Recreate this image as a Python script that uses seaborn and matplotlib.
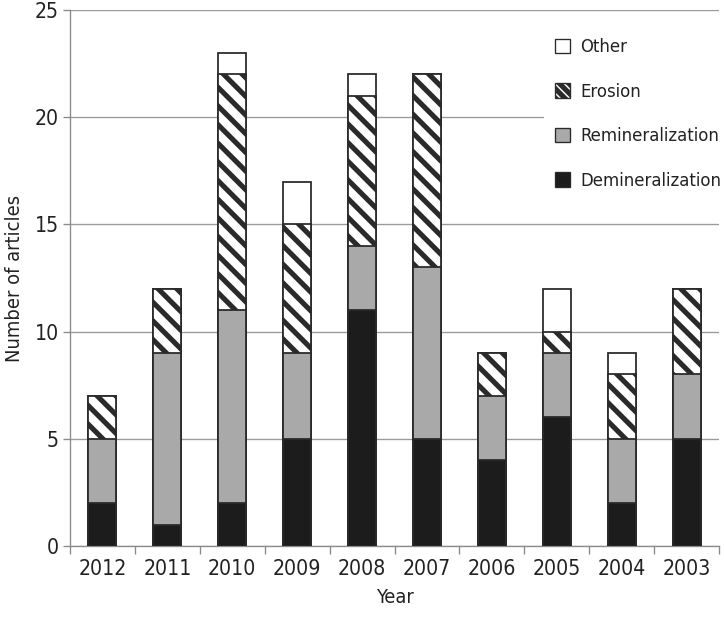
import matplotlib
matplotlib.use("Agg")
import matplotlib.pyplot as plt
from matplotlib.patches import Patch
import seaborn as sns
import pandas as pd
import numpy as np

years = ["2012", "2011", "2010", "2009", "2008", "2007", "2006", "2005", "2004", "2003"]
demineralization = [2, 1, 2, 5, 11, 5, 4, 6, 2, 5]
remineralization = [3, 8, 9, 4, 3, 8, 3, 3, 3, 3]
erosion = [2, 3, 11, 6, 7, 9, 2, 1, 3, 4]
other = [0, 0, 1, 2, 1, 0, 0, 2, 1, 0]

DPI = 112
S = 80 / DPI  # scale for point sizes

sns.set_theme(style="white")
plt.rcParams["font.family"] = ["DejaVu Sans"]
plt.rcParams["font.stretch"] = "condensed"
plt.rcParams["hatch.linewidth"] = 3.3

fig = plt.figure(figsize=(724 / DPI, 625 / DPI), dpi=DPI)
ax = fig.add_axes([70 / 724, 1 - 546 / 625, (719 - 70) / 724, (546 - 10) / 625])

c1 = np.array(demineralization)
c2 = c1 + np.array(remineralization)
c3 = c2 + np.array(erosion)
c4 = c3 + np.array(other)

edge = "#2a2a2a"
layers = [
    (c4, "white", None),
    (c3, "white", "\\\\"),
    (c2, "#a9a9a9", None),
    (c1, "#1c1c1c", None),
]
for vals, col, hatch in layers:
    df = pd.DataFrame({"Year": years, "v": vals})
    kw = dict(hatch=hatch) if hatch else {}
    sns.barplot(data=df, x="Year", y="v", order=years, color=col, ax=ax,
                width=0.43, edgecolor=edge, linewidth=1.6 * S, saturation=1,
                zorder=3, **kw)

ax.set_ylim(0, 25)
ax.set_xlim(-0.5, 9.5)
ax.set_yticks([0, 5, 10, 15, 20, 25])
ax.yaxis.grid(True, color="#9a9a9a", linewidth=1.2 * S, zorder=0)
ax.set_axisbelow(True)
for s in ["top", "right"]:
    ax.spines[s].set_visible(False)
for s in ["left", "bottom"]:
    ax.spines[s].set_color("#8a8a8a")
    ax.spines[s].set_linewidth(1.2 * S)

# x ticks at category boundaries
ax.set_xticks(np.arange(-0.5, 10, 1), minor=False)
ax.set_xticklabels([])
ax.set_xticks(np.arange(10), minor=True)
ax.set_xticklabels(years, minor=True)
ax.tick_params(axis="x", which="major", bottom=True, length=7 * S, width=1.2 * S, color="#8a8a8a")
ax.tick_params(axis="x", which="minor", bottom=False, length=0, labelsize=19 * S,
               colors="#222222", pad=12 * S)
ax.tick_params(axis="y", left=True, length=6 * S, width=1.2 * S, color="#8a8a8a",
               labelsize=19 * S, labelcolor="#222222", pad=4 * S)

ax.set_xlabel("Year", fontsize=18 * S, color="#222222", labelpad=8 * S)
ax.set_ylabel("Number of articles", fontsize=18 * S, color="#222222", labelpad=10 * S)

handles = [
    Patch(facecolor="white", edgecolor=edge, linewidth=1.2 * S, label="Other"),
    Patch(facecolor="white", edgecolor=edge, linewidth=1.2 * S, hatch="\\\\\\\\", label="Erosion"),
    Patch(facecolor="#a9a9a9", edgecolor=edge, linewidth=1.2 * S, label="Remineralization"),
    Patch(facecolor="#1c1c1c", edgecolor=edge, linewidth=1.2 * S, label="Demineralization"),
]
leg = ax.legend(handles=handles, loc="upper right", bbox_to_anchor=(1.035, 0.985),
                fontsize=16.5 * S, frameon=True, facecolor="white", edgecolor="none",
                framealpha=1, handlelength=0.85, handleheight=0.85, handletextpad=0.55,
                labelspacing=1.45, borderpad=0.6, borderaxespad=0.5, fancybox=False)
leg.set_zorder(5)
for t in leg.get_texts():
    t.set_color("#222222")

fig.savefig("out.png", dpi=DPI)
